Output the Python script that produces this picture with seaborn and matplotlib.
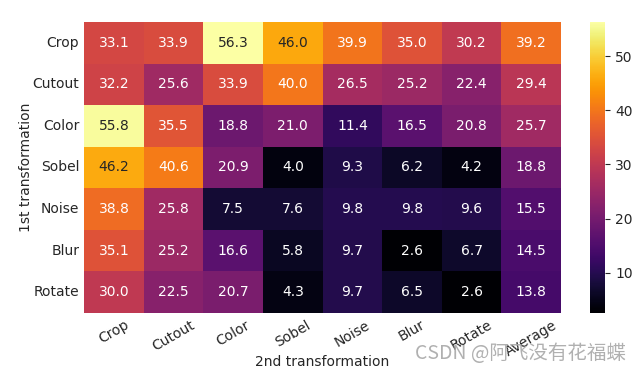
import numpy as np
import pandas as pd
import matplotlib
matplotlib.use("Agg")
import matplotlib.pyplot as plt
import seaborn as sns

rows = ["Crop", "Cutout", "Color", "Sobel", "Noise", "Blur", "Rotate"]
cols = ["Crop", "Cutout", "Color", "Sobel", "Noise", "Blur", "Rotate", "Average"]
crop   = [33.1, 33.9, 56.3, 46.0, 39.9, 35.0, 30.2, 39.2]
cutout = [32.2, 25.6, 33.9, 40.0, 26.5, 25.2, 22.4, 29.4]
color  = [55.8, 35.5, 18.8, 21.0, 11.4, 16.5, 20.8, 25.7]
sobel  = [46.2, 40.6, 20.9, 4.0, 9.3, 6.2, 4.2, 18.8]
noise  = [38.8, 25.8, 7.5, 7.6, 9.8, 9.8, 9.6, 15.5]
blur   = [35.1, 25.2, 16.6, 5.8, 9.7, 2.6, 6.7, 14.5]
rotate = [30.0, 22.5, 20.7, 4.3, 9.7, 6.5, 2.6, 13.8]

df = pd.DataFrame([crop, cutout, color, sobel, noise, blur, rotate], index=rows, columns=cols)

txt = "#262626"
plt.rcParams.update({"text.color": txt, "axes.labelcolor": txt,
                     "xtick.color": txt, "ytick.color": txt})

fig = plt.figure(figsize=(6.42, 3.73), dpi=100)
ax = fig.add_axes([0.131, 0.161, 0.743, 0.780])
cax = fig.add_axes([0.919, 0.161, 0.024, 0.780])

sns.heatmap(df, ax=ax, cbar_ax=cax, cmap="inferno", annot=True, fmt=".1f",
            annot_kws={"fontsize": 10})
ax.set_xlabel("2nd transformation", fontsize=10)
ax.set_ylabel("1st transformation", fontsize=10)
ax.tick_params(length=0, labelsize=10)
plt.setp(ax.get_xticklabels(), rotation=30, ha="center", rotation_mode="default")
plt.setp(ax.get_yticklabels(), rotation=0)
ax.xaxis.set_label_coords(0.5, -0.145)
ax.yaxis.set_label_coords(-0.108, 0.5)
cax.tick_params(labelsize=10)

fig.text(0.975, 0.052, "CSDN @阿飞没有花福蝶", ha="right", va="center", fontsize=14,
         color="#a8a8a8", alpha=0.9, family=["Noto Sans CJK SC", "DejaVu Sans"])

fig.savefig("out.png", dpi=100)
